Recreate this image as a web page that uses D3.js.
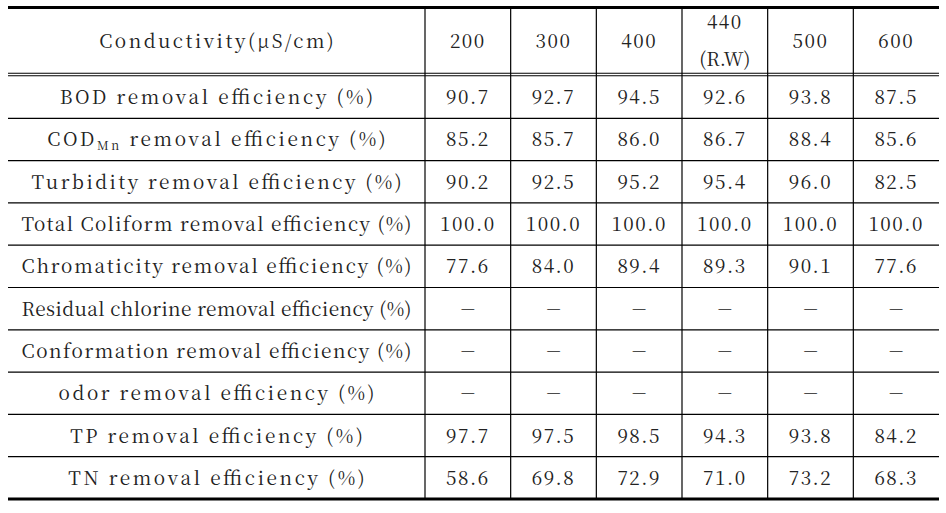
<!DOCTYPE html>
<html>
<head>
<meta charset="utf-8">
<script src="https://cdn.jsdelivr.net/npm/d3@7"></script>
<style>
  body { margin: 0; background: #fff; }
</style>
</head>
<body>
<script>
var w = 946;
var h = 513;

// header of the value columns
var conductivity = ["200", "300", "400", "440", "500", "600"];
var headerNotes = ["", "", "", "(R.W)", "", ""];

// row labels (COD gets its subscript added when drawn)
var parameters = [
  "BOD removal efficiency (%)",
  "COD removal efficiency (%)",
  "Turbidity removal efficiency (%)",
  "Total Coliform removal efficiency (%)",
  "Chromaticity removal efficiency (%)",
  "Residual chlorine removal efficiency (%)",
  "Conformation removal efficiency (%)",
  "odor removal efficiency (%)",
  "TP removal efficiency (%)",
  "TN removal efficiency (%)"
];

// one array of values per row, null = not measured
var bod          = [90.7, 92.7, 94.5, 92.6, 93.8, 87.5];
var codMn        = [85.2, 85.7, 86.0, 86.7, 88.4, 85.6];
var turbidity    = [90.2, 92.5, 95.2, 95.4, 96.0, 82.5];
var coliform     = [100.0, 100.0, 100.0, 100.0, 100.0, 100.0];
var chromaticity = [77.6, 84.0, 89.4, 89.3, 90.1, 77.6];
var chlorine     = [null, null, null, null, null, null];
var conformation = [null, null, null, null, null, null];
var odor         = [null, null, null, null, null, null];
var tp           = [97.7, 97.5, 98.5, 94.3, 93.8, 84.2];
var tn           = [58.6, 69.8, 72.9, 71.0, 73.2, 68.3];

var values = [bod, codMn, turbidity, coliform, chromaticity, chlorine, conformation, odor, tp, tn];

var font = "'Noto Serif CJK KR'";

var svg = d3.select("body").append("svg")
            .attr("width", w)
            .attr("height", h);

// layout
var leftX = 8, rightX = 939, topY = 7.5, bottomY = 499;
var labelRight = 425;
var headerBottom = 74.5;

var x = d3.scaleBand().domain(conductivity).range([labelRight, rightX]);
var y = d3.scaleBand().domain(parameters).range([headerBottom + 1.5, bottomY]);
var labelMid = (leftX + labelRight) / 2;
var fmt = d3.format(".1f");
var ink = "#222";
var fs = 19;

// ---- lines ----
var lines = svg.append("g").attr("stroke", "#000");

// horizontal separators between body rows
lines.selectAll("line.row")
     .data(parameters.slice(1))
     .enter().append("line")
     .attr("x1", leftX).attr("x2", rightX)
     .attr("y1", function(d){ return y(d); })
     .attr("y2", function(d){ return y(d); })
     .attr("stroke-width", 1.2);

// double line under header
[headerBottom - 1.3, headerBottom + 1.3].forEach(function(yy){
  lines.append("line")
       .attr("x1", leftX).attr("x2", rightX)
       .attr("y1", yy).attr("y2", yy)
       .attr("stroke-width", 1.1);
});

// vertical separators
lines.selectAll("line.col")
     .data(conductivity)
     .enter().append("line")
     .attr("x1", function(d){ return x(d); })
     .attr("x2", function(d){ return x(d); })
     .attr("y1", topY).attr("y2", bottomY)
     .attr("stroke-width", 1.2);

// thick top and bottom rules
lines.append("line").attr("x1", leftX).attr("x2", rightX)
     .attr("y1", topY).attr("y2", topY).attr("stroke-width", 3);
lines.append("line").attr("x1", leftX).attr("x2", rightX)
     .attr("y1", bottomY).attr("y2", bottomY).attr("stroke-width", 3);

// ---- header ----
var headMid = (topY + headerBottom) / 2;

svg.append("text")
   .attr("class", "lab")
   .attr("x", labelMid).attr("y", headMid + 7)
   .attr("text-anchor", "middle")
   .attr("fill", ink)
   .style("font-family", font)
   .style("font-size", fs + "px")
   .text("Conductivity(\u03bcS/cm)");

svg.selectAll("text.head")
   .data(conductivity)
   .enter().append("text")
   .attr("class", "head")
   .attr("text-anchor", "middle")
   .attr("fill", ink)
   .attr("x", function(d){ return x(d) + x.bandwidth() / 2; })
   .attr("y", function(d, i){ return headerNotes[i] ? headMid - 12 : headMid + 7; })
   .style("font-family", font)
   .style("font-size", fs + "px")
   .style("letter-spacing", "1.5px")
   .text(function(d){ return d; });

svg.selectAll("text.note")
   .data(conductivity.filter(function(d, i){ return headerNotes[i]; }))
   .enter().append("text")
   .attr("text-anchor", "middle")
   .attr("fill", ink)
   .attr("x", function(d){ return x(d) + x.bandwidth() / 2; })
   .attr("y", headMid + 25)
   .style("font-family", font)
   .style("font-size", fs + "px")
   .text(function(d){ return headerNotes[conductivity.indexOf(d)]; });

// ---- row labels ----
var labels = svg.selectAll("text.row")
                .data(parameters)
                .enter().append("text")
                .attr("class", "lab")
                .attr("fill", ink)
                .attr("x", labelMid)
                .attr("y", function(d){ return y(d) + y.bandwidth() / 2 + 7; })
                .attr("text-anchor", "middle")
                .style("font-family", font)
                .style("font-size", fs + "px");

labels.each(function(d){
  var t = d3.select(this);
  if (d.indexOf("COD") === 0) {
    t.append("tspan").text("COD");
    t.append("tspan").attr("dy", 4).style("font-size", "12px").text("Mn");
    t.append("tspan").attr("dy", -4).text(d.slice(3));
  } else {
    t.text(d);
  }
});

// stretch labels like the wide Batang of the original, but keep them in the cell
svg.selectAll("text.lab").each(function(){
  var n = this.getComputedTextLength();
  var target = Math.min(n * 1.24, 390);
  d3.select(this).attr("textLength", target).attr("lengthAdjust", "spacing");
});

// ---- cells ----
var rowsG = svg.selectAll("g.r")
               .data(values)
               .enter().append("g")
               .attr("transform", function(d, i){
                 return "translate(0," + (y(parameters[i]) + y.bandwidth() / 2 + 7) + ")";
               });

rowsG.selectAll("text")
     .data(function(d){ return d; })
     .enter().append("text")
     .attr("text-anchor", "middle")
     .attr("fill", ink)
     .attr("x", function(d, i){ return x(conductivity[i]) + x.bandwidth() / 2; })
     .attr("dy", function(d){ return d === null ? -2 : 0; })
     .style("font-family", font)
     .style("font-size", function(d){ return d === null ? "16px" : fs + "px"; })
     .style("letter-spacing", function(d){ return d === null ? null : "1.5px"; })
     .text(function(d){ return d === null ? "\u2014" : fmt(d); });
</script>
</body>
</html>
